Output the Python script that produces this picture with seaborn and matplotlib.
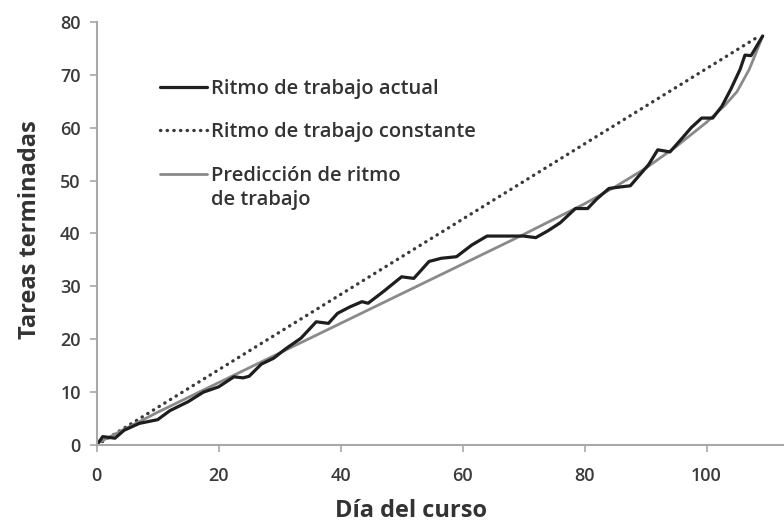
import matplotlib
matplotlib.use("Agg")
import matplotlib.pyplot as plt
import seaborn as sns

dias_actual = [0, 1, 3, 4.5, 7, 10, 12, 15, 17.5, 20, 22.5, 24, 25, 27, 29, 31, 33.5,
               36, 38, 39.5, 41.5, 43.5, 44.5, 47, 50, 52, 54.5, 56.5, 59, 61.5, 64,
               67, 70, 72, 74, 76, 78.5, 80.5, 82, 84, 86, 87.5, 89, 90.5, 92, 94, 96,
               97.5, 99.2, 101, 102.5, 104, 105.5, 106.3, 107.3, 109.2]
tareas_actual = [0, 1.6, 1.3, 2.8, 4.1, 4.8, 6.5, 8.2, 10, 11, 12.9, 12.7, 13, 15.3,
                 16.4, 18.2, 20.2, 23.3, 23, 24.9, 26.1, 27.1, 26.8, 29, 31.8, 31.5,
                 34.7, 35.3, 35.6, 37.8, 39.5, 39.5, 39.5, 39.2, 40.5, 42, 44.7, 44.7,
                 46.5, 48.5, 48.8, 49, 51, 53, 55.8, 55.4, 58, 60, 61.8, 61.8, 64,
                 67.3, 71, 73.7, 73.6, 77.3]

# prediccion
dias_prediccion = [0, 10, 20, 30, 40, 50, 60, 70, 75, 80, 85, 90, 95, 100, 103, 105,
                   107, 108, 109.2]
tareas_prediccion = [0.3, 6.2, 11.8, 17.4, 23, 28.6, 34.2, 39.8, 42.7, 45.6, 48.8,
                     52.3, 56.4, 61, 64.2, 66.8, 71, 73.8, 77.3]

# ritmo constante
dias_constante = [0, 108.5]
tareas_constante = [0, 77.2]

etiquetas = ["Ritmo de trabajo actual", "Ritmo de trabajo constante", "Predicción de ritmo"]
etiqueta_extra = "de trabajo"

xticks = [0, 20, 40, 60, 80, 100]
yticks = [0, 10, 20, 30, 40, 50, 60, 70, 80]

sns.set_style("white")
plt.rcParams['font.family'] = ['Open Sans', 'DejaVu Sans']

fig = plt.figure(figsize=(7.84, 5.23), dpi=100)
ax = fig.add_axes([0.1233, 0.149, 0.8767, 0.8094])

sns.lineplot(x=dias_constante, y=tareas_constante, ax=ax, color='#3a3a3a', lw=2.4,
             linestyle=(0, (0.1, 1.9)), dash_capstyle='round', label=etiquetas[1])
sns.lineplot(x=dias_prediccion, y=tareas_prediccion, ax=ax, color='#8a8a8a', lw=2.0,
             label=etiquetas[2])
sns.lineplot(x=dias_actual, y=tareas_actual, ax=ax, color='#1e1e1e', lw=2.3,
             solid_joinstyle='round', label=etiquetas[0])

ax.set_xlim(0, 112.7)
ax.set_ylim(0, 80)
ax.set_xticks(xticks)
ax.set_yticks(yticks)
sns.despine(ax=ax)
for s in ['left', 'bottom']:
    ax.spines[s].set_color('#a8a8a8')
    ax.spines[s].set_linewidth(1.5)
ax.tick_params(bottom=True, left=True, direction='out', length=5, width=1.2,
               color='#a8a8a8', labelsize=13, labelcolor='#3a3a3a')
ax.tick_params(axis='x', pad=11)
ax.tick_params(axis='y', pad=6.5)
for t in ax.get_xticklabels() + ax.get_yticklabels():
    t.set_fontweight('semibold')

ax.set_xlabel("Día del curso", fontsize=17, fontweight='bold', color='#333333')
ax.set_ylabel("Tareas terminadas", fontsize=17, fontweight='bold', color='#333333')
ax.xaxis.set_label_coords(0.457, -0.156)
ax.xaxis.label.set_va('center')
ax.yaxis.set_label_coords(-0.097, 0.51)
ax.yaxis.label.set_va('center')

h, l = ax.get_legend_handles_labels()
orden = [l.index(e) for e in etiquetas]
leg = ax.legend([h[i] for i in orden], [l[i] for i in orden], loc='upper left',
                bbox_to_anchor=(0.092, 0.865), frameon=False, fontsize=14.5,
                handlelength=2.35, handletextpad=0.2, labelspacing=1.16,
                borderpad=0, borderaxespad=0)
for t in leg.get_texts():
    t.set_color('#333333')
    t.set_fontweight('semibold')
ax.annotate(etiqueta_extra, xy=(0, 0), xycoords=leg.get_texts()[2], xytext=(0, -3.3),
            textcoords='offset points', va='top', ha='left', fontsize=14.5,
            color='#333333', fontweight='semibold', zorder=10)

fig.savefig("out.png", dpi=100)
